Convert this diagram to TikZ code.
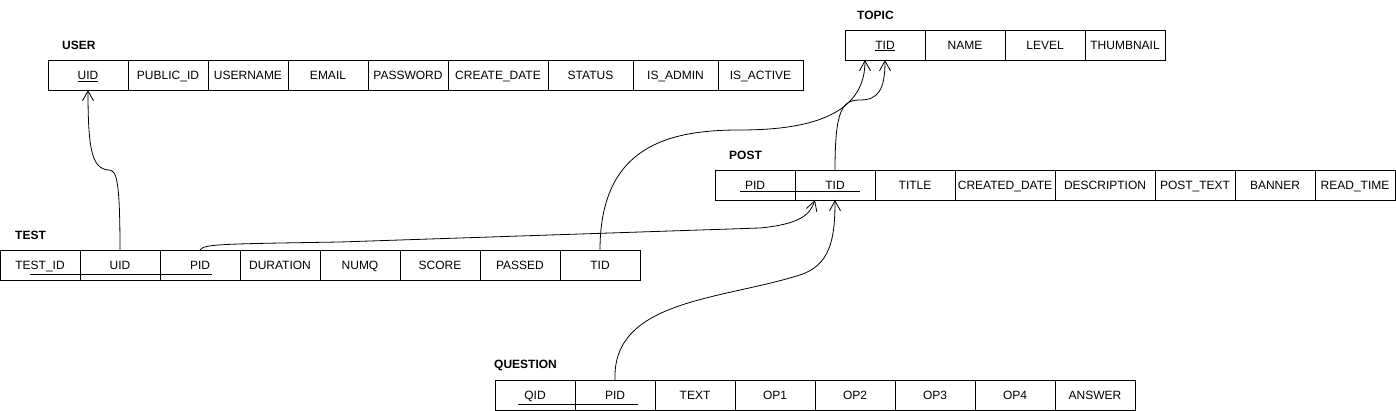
\documentclass[tikz,border=0pt]{standalone}
\usepackage{fontspec}
\setmainfont{Liberation Sans}
\usetikzlibrary{arrows.meta}
\tikzset{
  cell/.style={draw, line width=0.9pt, minimum height=30pt, inner sep=0pt, outer sep=0pt, anchor=north west, text height=8.6pt, text depth=0pt, font=\fontsize{12}{14}\selectfont},
  ttl/.style={anchor=west, inner sep=0pt, font=\bfseries\fontsize{12}{14}\selectfont},
  fk/.style={line width=0.8pt, -{Straight Barb[length=10pt,width=11pt]}},
  keyline/.style={line width=0.8pt}
}
\begin{document}
\begin{tikzpicture}[x=1pt,y=-1pt]
\useasboundingbox (0,0) rectangle (1396,411);
% USER
\node[ttl] (user-title) at (62,45) {USER};
\foreach \n/\t/\x/\w in {uid/{\underline{UID}}/48/80, pub/PUBLIC\_ID/128/80, uname/USERNAME/208/80, email/EMAIL/288/80, pwd/PASSWORD/368/80, cdate/CREATE\_DATE/448/100, status/STATUS/548/85, admin/IS\_ADMIN/633/85, active/IS\_ACTIVE/718/85}
  \node[cell, minimum width=\w pt] (user-\n) at (\x,60) {\t};
% TOPIC
\node[ttl] (topic-title) at (857,15) {TOPIC};
\foreach \n/\t/\x/\w in {tid/{\underline{TID}}/845/80, name/NAME/925/80, level/LEVEL/1005/80, thumb/THUMBNAIL/1085/80}
  \node[cell, minimum width=\w pt] (topic-\n) at (\x,30) {\t};
% POST
\node[ttl] (post-title) at (729,155) {POST};
\foreach \n/\t/\x/\w in {pid/PID/715/80, tid/TID/795/80, title/TITLE/875/80, cdate/CREATED\_DATE/955/100, desc/DESCRIPTION/1055/100, ptext/POST\_TEXT/1155/80, banner/BANNER/1235/80, rtime/READ\_TIME/1315/80}
  \node[cell, minimum width=\w pt] (post-\n) at (\x,170) {\t};
\draw[keyline] (740,191.5) -- (860,191.5);
% TEST
\node[ttl] (test-title) at (15,235) {TEST};
\foreach \n/\t/\x/\w in {testid/TEST\_ID/0/80, uid/UID/80/80, pid/PID/160/80, dur/DURATION/240/80, numq/NUMQ/320/80, score/SCORE/400/80, passed/PASSED/480/80, tid/TID/560/80}
  \node[cell, minimum width=\w pt] (test-\n) at (\x,250) {\t};
\draw[keyline] (30,274.5) -- (212,274.5);
% QUESTION
\node[ttl] (q-title) at (494,365) {QUESTION};
\foreach \n/\t/\x/\w in {qid/QID/495/80, pid/PID/575/80, text/TEXT/655/80, op1/OP1/735/80, op2/OP2/815/80, op3/OP3/895/80, op4/OP4/975/80, answer/ANSWER/1055/80}
  \node[cell, minimum width=\w pt] (q-\n) at (\x,380) {\t};
\draw[keyline] (518,404.5) -- (638,404.5);
% connectors
\draw[fk] (test-uid.north) .. controls (120,175) and (116,170) .. (108,170)
  .. controls (92,168) and (88,150) .. (user-uid.south);
\draw[fk] (test-tid.north) .. controls (600,145) and (670,130) .. (740,130)
  .. controls (820,130) and (865,110) .. ([xshift=-20pt]topic-tid.south);
\draw[fk] (post-tid.north) .. controls (835,110) and (842,100) .. (860,100)
  .. controls (878,100) and (885,90) .. (topic-tid.south);
\draw[fk] (test-pid.north) .. controls (204,244) and (220,244) .. (340,242)
  -- (760,228) .. controls (800,224) and (810,215) .. ([xshift=-20pt]post-tid.south);
\draw[fk] (q-pid.north) .. controls (612,300) and (720,300) .. (800,275)
  .. controls (830,265) and (835,240) .. (post-tid.south);
\end{tikzpicture}
\end{document}
